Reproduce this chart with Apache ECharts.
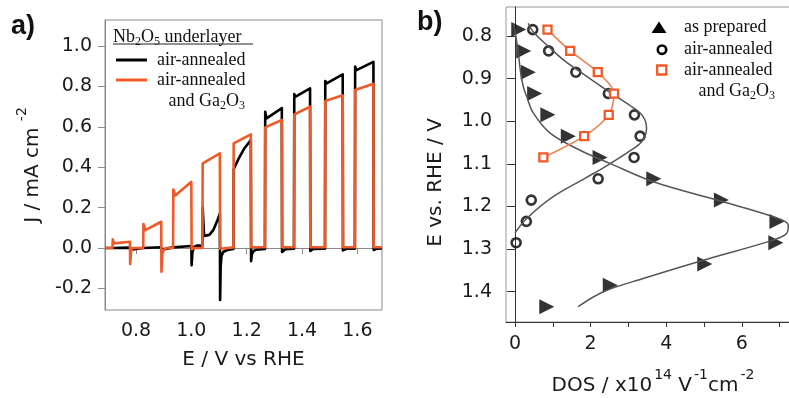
<!DOCTYPE html>
<html><head><meta charset="utf-8">
<script src="https://cdn.jsdelivr.net/npm/echarts@6/dist/echarts.min.js"></script>
<style>html,body{margin:0;padding:0;background:#fff}#c{width:789px;height:398px}</style>
</head><body><div id="c"></div>
<script>
// ---------- Panel a: chopped-light J–E curves ----------
const aBlackE = [0.688,0.715,0.778,0.780,0.785,0.826,0.891,0.893,0.900,0.934,1.000,1.001,1.004,1.010,1.020,1.030,1.040,1.041,1.046,1.050,1.065,1.080,1.095,1.103,1.104,1.106,1.109,1.115,1.130,1.152,1.153,1.170,1.190,1.215,1.216,1.219,1.225,1.235,1.266,1.267,1.272,1.327,1.328,1.331,1.340,1.371,1.372,1.377,1.429,1.430,1.433,1.440,1.483,1.484,1.489,1.547,1.548,1.551,1.560,1.591,1.592,1.597,1.658,1.659,1.662,1.670,1.689];
const aBlackJ = [0,0,0.002,-0.008,0,0,0.004,-0.008,0,0.003,0.01,-0.085,-0.02,0.005,0.012,0.012,0.01,0.2,0.06,0.055,0.065,0.09,0.14,0.17,-0.257,-0.09,-0.04,-0.02,-0.01,-0.005,0.39,0.44,0.49,0.535,-0.065,-0.03,-0.015,-0.008,-0.005,0.675,0.642,0.693,-0.02,-0.012,-0.006,-0.004,0.762,0.749,0.79,-0.015,-0.01,-0.005,-0.004,0.827,0.815,0.86,-0.012,-0.008,-0.004,-0.003,0.898,0.881,0.922,-0.01,-0.006,-0.003,-0.002];
const aOrangeE = [0.688,0.715,0.716,0.720,0.778,0.779,0.782,0.786,0.826,0.827,0.834,0.891,0.892,0.895,0.900,0.910,0.934,0.935,0.942,1.000,1.001,1.010,1.040,1.041,1.045,1.103,1.104,1.110,1.152,1.153,1.215,1.216,1.266,1.267,1.327,1.328,1.371,1.372,1.429,1.430,1.483,1.484,1.547,1.548,1.591,1.592,1.658,1.659,1.689];
const aOrangeJ = [0,0,0.043,0.023,0.031,-0.079,-0.02,0,0,0.119,0.088,0.13,-0.117,-0.03,-0.01,0,0,0.29,0.26,0.328,-0.006,0,0,0.419,0.415,0.469,-0.004,0.003,0.003,0.518,0.563,0.004,0.004,0.597,0.634,0.004,0.004,0.661,0.70,0.004,0.004,0.728,0.756,0.004,0.004,0.782,0.813,0.004,0.004];
const aXTicks = [0.8,1.0,1.2,1.4,1.6];
const aYTicks = [-0.2,0,0.2,0.4,0.6,0.8,1.0];

// ---------- Panel b: DOS vs E ----------
const bTriE   = [0.785,0.835,0.885,0.935,0.985,1.035,1.085,1.135,1.185,1.235,1.285,1.335,1.385,1.435];
const bTriDOS = [0.1,0.23,0.35,0.52,0.87,1.41,2.25,3.67,5.46,6.93,6.9,5.02,2.52,0.84];
const bCircE   = [0.785,0.835,0.885,0.935,0.985,1.035,1.085,1.135,1.185,1.235,1.285];
const bCircDOS = [0.47,0.89,1.61,2.47,3.16,3.31,3.15,2.2,0.43,0.3,0.03];
const bSqE   = [0.785,0.835,0.885,0.935,0.985,1.035,1.085];
const bSqDOS = [0.86,1.46,2.19,2.62,2.48,1.83,0.75];
const bTriFitE   = [0.772,0.84,0.88,0.919,0.942,0.98,1.028,1.068,1.099,1.142,1.185,1.224,1.244,1.263,1.279,1.326,1.369,1.40,1.435];
const bTriFitDOS = [-0.03,0.09,0.14,0.22,0.31,0.48,0.93,1.72,2.51,3.66,5.34,6.83,7.23,7.19,6.83,4.98,3.39,2.34,1.67];
const bCircFitE   = [0.770,0.79,0.826,0.856,0.892,0.93,0.966,0.989,1.017,1.048,1.072,1.107,1.134,1.177,1.228,1.262];
const bCircFitDOS = [0.35,0.48,0.9,1.28,1.85,2.47,3.09,3.39,3.48,3.35,3.0,2.38,1.85,1.01,0.31,0.0];
const bXTicks = [0,1,2,3,4,5,6,7];
const bXLabels = [0,2,4,6];
const bYTicks = [0.8,0.9,1.0,1.1,1.2,1.3,1.4];

const ORANGE = '#F05A28';
const zip = (xs, ys) => xs.map((x, i) => [x, ys[i]]);
const FONT = 'DejaVu Sans';
const SERIF = 'Liberation Serif';

const chart = echarts.init(document.getElementById('c'), null, {renderer: 'canvas'});

const serifText = (x, y, text, align) => ({
  type: 'text', x: x, y: y, silent: true,
  style: {
    text: text, fontFamily: SERIF, fontSize: 18, fill: '#111',
    align: align || 'left', textAlign: align || 'left',
    verticalAlign: 'middle', textVerticalAlign: 'middle', lineHeight: 22,
    rich: { s: { fontFamily: SERIF, fontSize: 12, lineHeight: 13, verticalAlign: 'bottom', fill: '#111' } }
  }
});

const option = {
  animation: false,
  backgroundColor: '#fff',
  grid: [
    {left: 105, top: 20, width: 277, height: 290, show: true, borderColor: '#8a8a8a', borderWidth: 1, containLabel: false, outerBoundsMode: 'none'},
    {left: 506, top: 7, width: 284, height: 315, show: true, borderColor: '#9a9a9a', borderWidth: 1, containLabel: false, outerBoundsMode: 'none'}
  ],
  xAxis: [
    {
      type: 'value', gridIndex: 0, min: 0.688, max: 1.689,
      axisLine: {show: true, lineStyle: {color: '#8a8a8a', width: 1}},
      axisTick: {show: true, customValues: aXTicks, length: 6, lineStyle: {color: '#8a8a8a'}},
      axisLabel: {customValues: aXTicks, formatter: v => v.toFixed(1), fontFamily: FONT, fontSize: 19, color: '#1a1a1a', margin: 12},
      splitLine: {show: false},
      name: 'E / V vs RHE', nameLocation: 'middle', nameGap: 40,
      nameTextStyle: {fontFamily: FONT, fontSize: 20, color: '#1a1a1a'}
    },
    {
      type: 'value', gridIndex: 1, min: -0.238, max: 7.275,
      axisLine: {show: true, lineStyle: {color: '#333', width: 1}},
      axisTick: {show: true, customValues: bXTicks, length: 5, lineStyle: {color: '#333'}},
      axisLabel: {customValues: bXLabels, formatter: v => String(v), fontFamily: FONT, fontSize: 19, color: '#1a1a1a', margin: 13},
      splitLine: {show: false},
      name: 'DOS / x10{sup|14} V{sup|-1}cm{sup|-2}', nameLocation: 'middle', nameGap: 46,
      nameTextStyle: {fontFamily: FONT, fontSize: 20, color: '#1a1a1a', lineHeight: 36, padding: [0, 0, 0, 10],
        rich: {sup: {fontFamily: FONT, fontSize: 14, lineHeight: 14, verticalAlign: 'top', color: '#1a1a1a', padding: [0, 0, 0, 2]}}}
    }
  ],
  yAxis: [
    {
      type: 'value', gridIndex: 0, min: -0.307, max: 1.129,
      axisLine: {show: true, lineStyle: {color: '#8a8a8a', width: 1}},
      axisTick: {show: true, customValues: aYTicks, length: 7, lineStyle: {color: '#8a8a8a'}},
      axisLabel: {customValues: aYTicks, formatter: v => v.toFixed(1), fontFamily: FONT, fontSize: 19, color: '#1a1a1a', margin: 13},
      splitLine: {show: false},
      name: 'J / mA cm {sup|-2}', nameLocation: 'middle', nameGap: 52,
      nameTextStyle: {fontFamily: FONT, fontSize: 20, color: '#1a1a1a', lineHeight: 36,
        rich: {sup: {fontFamily: FONT, fontSize: 14, lineHeight: 14, verticalAlign: 'top', color: '#1a1a1a'}}}
    },
    {
      type: 'value', gridIndex: 1, min: 0.732, max: 1.471, inverse: true,
      axisLine: {show: true, lineStyle: {color: '#333', width: 1}},
      axisTick: {show: true, customValues: bYTicks, length: 8, lineStyle: {color: '#333'}},
      axisLabel: {customValues: bYTicks, formatter: v => v.toFixed(1), fontFamily: FONT, fontSize: 19, color: '#1a1a1a', margin: 14},
      splitLine: {show: false},
      name: 'E vs. RHE / V', nameLocation: 'middle', nameGap: 60,
      nameTextStyle: {fontFamily: FONT, fontSize: 20, color: '#1a1a1a', padding: [0, 36, 0, 0]}
    }
  ],
  series: [
    {type: 'line', xAxisIndex: 0, yAxisIndex: 0, data: zip(aBlackE, aBlackJ), symbol: 'none',
      lineStyle: {color: '#000', width: 2.6, join: 'round'}, silent: true},
    {type: 'line', xAxisIndex: 0, yAxisIndex: 0, data: zip(aOrangeE, aOrangeJ), symbol: 'none',
      lineStyle: {color: ORANGE, width: 2.6, join: 'round'}, silent: true},

    {type: 'line', xAxisIndex: 1, yAxisIndex: 1, data: zip(bTriFitDOS, bTriFitE), symbol: 'none', smooth: 0.35,
      lineStyle: {color: '#555', width: 1.5}, silent: true},
    {type: 'line', xAxisIndex: 1, yAxisIndex: 1, data: zip(bCircFitDOS, bCircFitE), symbol: 'none', smooth: 0.35,
      lineStyle: {color: '#555', width: 1.5}, silent: true},
    {type: 'scatter', xAxisIndex: 1, yAxisIndex: 1, data: zip(bCircDOS, bCircE), symbol: 'circle', symbolSize: 9,
      itemStyle: {color: 'rgba(255,255,255,0)', borderColor: '#000', borderWidth: 2.6}, silent: true},
    {type: 'scatter', xAxisIndex: 1, yAxisIndex: 1, data: zip(bTriDOS, bTriE), symbol: 'path://M0,0L10,5L0,10Z', symbolSize: [15, 15],
      itemStyle: {color: '#000'}, silent: true},
    {type: 'line', xAxisIndex: 1, yAxisIndex: 1, data: zip(bSqDOS, bSqE), symbol: 'rect', symbolSize: 8, smooth: 0.3,
      lineStyle: {color: '#F37B4C', width: 1.5},
      itemStyle: {color: '#fff', borderColor: ORANGE, borderWidth: 2.3}, silent: true}
  ],
  graphic: [
    {type: 'text', x: 11, y: 27, silent: true, style: {text: 'a)', fontFamily: 'Liberation Sans', fontWeight: 'bold', fontSize: 27, fill: '#111', verticalAlign: 'middle', textVerticalAlign: 'middle'}},
    {type: 'text', x: 417, y: 23, silent: true, style: {text: 'b)', fontFamily: 'Liberation Sans', fontWeight: 'bold', fontSize: 27, fill: '#111', verticalAlign: 'middle', textVerticalAlign: 'middle'}},
    // legend a
    serifText(113, 37, 'Nb{s|2}O{s|5} underlayer'),
    {type: 'line', silent: true, shape: {x1: 113, y1: 44, x2: 253, y2: 44}, style: {stroke: '#222', lineWidth: 1}},
    {type: 'line', silent: true, shape: {x1: 116, y1: 60, x2: 147, y2: 60}, style: {stroke: '#000', lineWidth: 3}},
    serifText(157, 60, 'air-annealed'),
    {type: 'line', silent: true, shape: {x1: 116, y1: 80, x2: 147, y2: 80}, style: {stroke: ORANGE, lineWidth: 3}},
    serifText(157, 80, 'air-annealed'),
    serifText(245, 101, 'and Ga{s|2}O{s|3}', 'right'),
    // legend b
    {type: 'polygon', silent: true, shape: {points: [[651.5, 33], [666.5, 33], [659, 21.5]]}, style: {fill: '#000'}},
    serifText(684, 27, 'as prepared'),
    {type: 'circle', silent: true, shape: {cx: 662, cy: 49.7, r: 4.2}, style: {fill: 'none', stroke: '#000', lineWidth: 2.6}},
    serifText(684, 49, 'air-annealed'),
    {type: 'rect', silent: true, shape: {x: 657.2, y: 65.5, width: 9, height: 9}, style: {fill: '#fff', stroke: ORANGE, lineWidth: 2.3}},
    serifText(684, 70, 'air-annealed'),
    serifText(775, 91, 'and Ga{s|2}O{s|3}', 'right')
  ]
};
chart.setOption(option);
</script>
</body></html>
